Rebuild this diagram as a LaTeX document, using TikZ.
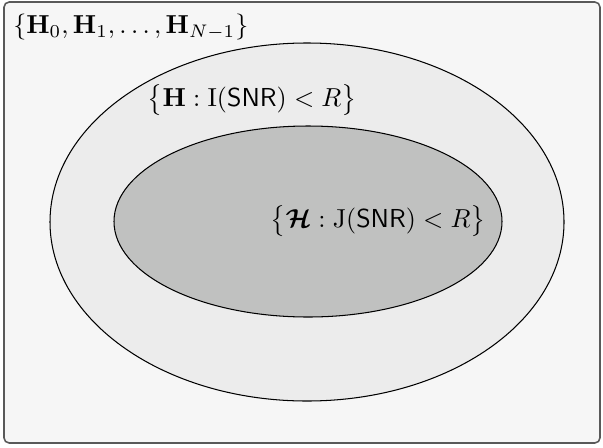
\documentclass[tikz,border=0pt]{standalone}
\usepackage{amsmath, amssymb, bm}
\usetikzlibrary{positioning, shapes.geometric}

\definecolor{paper}{HTML}{F6F6F6}
\definecolor{lightset}{HTML}{ECECEC}
\definecolor{darkset}{HTML}{C0C1C0}

\begin{document}
\begin{tikzpicture}[x=0.385pt, y=-0.385pt, semithick,
    setbox/.style={ellipse, draw=black, thin, inner sep=0pt},
    setlabel/.style={inner sep=1pt}]
      \useasboundingbox (0,0) rectangle (603,447);
      \draw[rounded corners=2pt, draw=black!65, fill=paper] (4,2) rectangle (600,443);

      \node[setbox, fill=lightset, minimum width=514*0.385pt, minimum height=358*0.385pt] (outer) at (307,222) {};
      \node[setbox, fill=darkset, minimum width=388*0.385pt, minimum height=191*0.385pt] (inner) at (308,221.5) {};

      \node[setlabel, anchor=west] (all) at (10,27) {$\{\mathbf{H}_0, \mathbf{H}_1, \ldots, \mathbf{H}_{N-1}\}$};
      \node[setlabel] (outage) at (252,100) {$\big\{\mathbf{H} : \mathrm{I}(\mathsf{SNR}) < R\big\}$};
      \node[setlabel] (joint) at (378,221) {$\big\{\bm{\mathcal{H}} : \mathrm{J}(\mathsf{SNR}) < R\big\}$};
    \end{tikzpicture}
\end{document}
